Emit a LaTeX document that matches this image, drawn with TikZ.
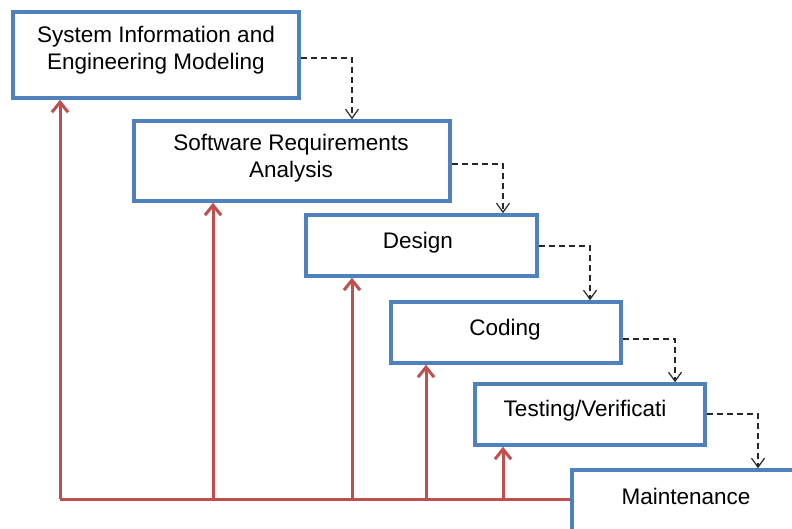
\documentclass[tikz,border=0pt]{standalone}
\usepackage{fontspec}
\setmainfont{Liberation Sans}
\usetikzlibrary{arrows.meta}
\definecolor{boxblue}{HTML}{4F81BD}
\definecolor{flowred}{HTML}{C0504D}
\tikzset{
  phasefont/.style={font=\fontsize{22.5}{27}\selectfont},
  phase/.style={draw=boxblue, line width=3.6pt, fill=white, align=center,
    phasefont, inner sep=0pt},
  handoff/.style={draw=black!85, line width=1.2pt, dash pattern=on 6pt off 4pt,
    -{Straight Barb[length=9pt,width=13pt,line width=1.2pt]}},
  feedback/.style={draw=flowred, line width=3pt,
    -{Straight Barb[length=10pt,width=16pt,line width=3pt]}}
}
\begin{document}
\begin{tikzpicture}[x=1pt,y=-1pt]
\useasboundingbox (0,0) rectangle (792,529);
\clip (0,0) rectangle (792,529);
\fill[white] (0,0) rectangle (792,529);

% phases of the waterfall
\node[phase, minimum width=286pt, minimum height=86pt] (b1) at (156,55) {};
\node[phasefont, align=center] (t1) at (156,50)
  {System Information and\\Engineering Modeling};
\node[phase, minimum width=316pt, minimum height=80pt] (b2) at (292,161) {};
\node[phasefont, align=center] (t2) at (291,158)
  {Software Requirements\\Analysis};
\node[phase, minimum width=231pt, minimum height=61pt] (b3) at (421.5,245.5) {};
\node[phasefont] (t3) at (418,243) {Design};
\node[phase, minimum width=230pt, minimum height=61pt] (b4) at (506,332.5) {};
\node[phasefont] (t4) at (505,330) {Coding};
\node[phase, minimum width=230pt, minimum height=61pt] (b5) at (590,414.5) {};
\node[phasefont] (t5) at (585,411) {Testing/Verificati};
\node[phase, minimum width=230pt, minimum height=61pt] (b6) at (687,500.5) {};
\node[phasefont] (t6) at (686,496) {Maintenance};

% hand-offs from one phase to the next
\draw[handoff] ([yshift=-3pt]b1.east) -| ([xshift=60pt]b2.north);
\draw[handoff] ([yshift=-3pt]b2.east) -| ([xshift=81.5pt]b3.north);
\draw[handoff] ([yshift=-0.5pt]b3.east) -| ([xshift=84pt]b4.north);
\draw[handoff] ([yshift=-6.5pt]b4.east) -| ([xshift=85pt]b5.north);
\draw[handoff] ([yshift=0.5pt]b5.east) -| ([xshift=71pt]b6.north);

% feedback paths along the bottom rail
\coordinate (r1) at (60,499);
\coordinate (r2) at (213,499);
\coordinate (r3) at (352,499);
\coordinate (r4) at (426,499);
\coordinate (r5) at (503,499);
\draw[flowred, line width=3pt] (r1) -- (r1 -| b6.west);
\draw[feedback] (r1) -- (r1 |- b1.south);
\draw[feedback] (r2) -- (r2 |- b2.south);
\draw[feedback] (r3) -- (r3 |- b3.south);
\draw[feedback] (r4) -- (r4 |- b4.south);
\draw[feedback] (r5) -- (r5 |- b5.south);
\end{tikzpicture}
\end{document}
